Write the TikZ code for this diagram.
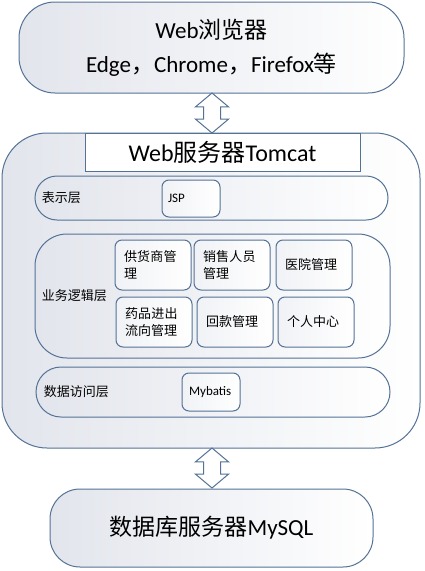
\documentclass[tikz,border=0pt]{standalone}
\usepackage{fontspec}
\setmainfont{Carlito}
\newfontfamily\cjk{Noto Sans CJK SC}
\XeTeXlinebreaklocale "zh"
\XeTeXlinebreakskip=0pt plus 1pt
\usetikzlibrary{shapes.arrows}
\definecolor{frame}{RGB}{84,114,150}
\definecolor{shade}{RGB}{226,229,236}

\begin{document}
\begin{tikzpicture}
  [x=1pt,y=-1pt,line width=1pt,
   panel/.style={draw=frame,left color=shade,right color=white,rounded corners=#1,inner sep=0pt},
   module/.style={draw=frame,left color=shade!50,right color=white,rounded corners=7,
     minimum width=76,minimum height=50,text width=58,align=left,inner sep=0pt,
     font=\cjk\fontsize{13}{17}\selectfont},
   tag/.style={anchor=west,font=\cjk\fontsize{13}{16}\selectfont},
   dblarrow/.style={double arrow,rotate=90,draw=frame,fill=white,minimum height=40,
     inner sep=8pt,double arrow head extend=8pt,double arrow tip angle=100}]
  \useasboundingbox (0,0) rectangle (424,571);

  % browser
  \node[panel=36,minimum width=385,minimum height=91,align=center,
    font=\fontsize{23}{34}\selectfont] (browser) at (211.5,47.5)
    {Web{\cjk 浏览器}\\Edge{\cjk ，}Chrome{\cjk ，}Firefox{\cjk 等}};
  \node[dblarrow] (a1) at (212,113) {};

  % web server
  \node[panel=45,minimum width=418,minimum height=315] (server) at (211,290.5) {};
  \node[draw=frame,fill=white,minimum width=275,minimum height=38,
    font=\fontsize{24}{28}\selectfont] (title) at (222.5,152) {Web{\cjk 服务器}Tomcat};

  \node[panel=22,minimum width=353,minimum height=44] (view) at (211.5,198) {};
  \node[tag] (l1) at (38,198) {表示层};
  \node[module,minimum width=58,minimum height=37,text width=46,font=\fontsize{13}{16}\selectfont]
    (jsp) at (191,198.5) {JSP};

  \node[panel=32,minimum width=355,minimum height=124] (logic) at (212.5,296) {};
  \node[tag] (l2) at (38,296) {业务逻辑层};
  \node[module] (m1) at (153,265) {供货商管理};
  \node[module] (m2) at (232,265) {销售人员管理};
  \node[module] (m3) at (314,265) {医院管理};
  \node[module] (m4) at (154,322) {药品进出流向管理};
  \node[module] (m5) at (235,322) {回款管理};
  \node[module] (m6) at (316,322) {个人中心};

  \node[panel=25,minimum width=354,minimum height=50] (dao) at (213,392) {};
  \node[tag] (l3) at (40,392) {数据访问层};
  \node[module,minimum width=58,minimum height=38,text width=44,font=\fontsize{13}{16}\selectfont]
    (mybatis) at (211,392) {Mybatis};

  % database
  \node[dblarrow] (a2) at (212,468) {};
  \node[panel=30,minimum width=323,minimum height=78,
    font=\fontsize{23}{28}\selectfont] (db) at (211.5,528) {{\cjk 数据库服务器}MySQL};
\end{tikzpicture}
\end{document}
